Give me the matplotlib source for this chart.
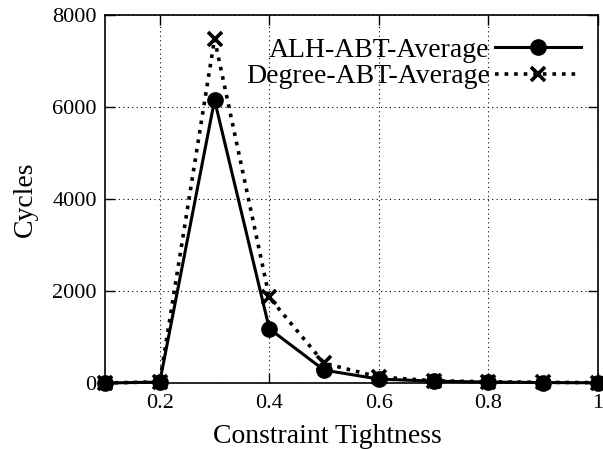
import matplotlib.pyplot as plt
import numpy as np

plt.rcParams['font.family'] = ['Liberation Serif', 'DejaVu Serif']

tightness = [0.1, 0.2, 0.3, 0.4, 0.5, 0.6, 0.7, 0.8, 0.9, 1.0]
alh_avg = [0, 20, 6150, 1180, 280, 85, 40, 20, 10, 5]
degree_avg = [0, 25, 7480, 1860, 430, 130, 50, 25, 15, 8]

fig = plt.figure(figsize=(6.03, 4.49), dpi=100)
ax = fig.add_axes([105 / 603, 1 - 383 / 449, 493 / 603, 368 / 449])

ax.plot(tightness, alh_avg, '-', color='black', lw=2.2, marker='o', ms=11,
        label='ALH-ABT-Average', clip_on=False, zorder=4)
ax.plot(tightness, degree_avg, ':', color='black', lw=2.6, marker='x', ms=10,
        mew=2.6, label='Degree-ABT-Average', clip_on=False, zorder=3)

ax.set_xlim(0.1, 1.0)
ax.set_ylim(0, 8000)
ax.set_xticks([0.2, 0.4, 0.6, 0.8, 1.0])
ax.set_xticklabels(['0.2', '0.4', '0.6', '0.8', '1'])
ax.set_yticks([0, 2000, 4000, 6000, 8000])
ax.tick_params(direction='in', top=True, right=True, labelsize=16, length=7,
               width=1, pad=8)
ax.tick_params(axis='y', pad=6)
ax.grid(True, linestyle=(0, (1, 3)), color='black', lw=0.8)
for s in ax.spines.values():
    s.set_linewidth(1.2)

ax.set_xlabel('Constraint Tightness', fontsize=20, va='baseline')
ax.xaxis.set_label_coords(0.452, -0.163)
ax.set_ylabel('Cycles', fontsize=20, labelpad=10)

leg = ax.legend(loc='upper right', bbox_to_anchor=(1.0, 0.985),
                markerfirst=False, frameon=False,
                fontsize=20, handlelength=3.1, borderaxespad=0.2,
                labelspacing=0.05, handletextpad=0.2)
for t in leg.get_texts():
    t.set_ha('right')

fig.savefig('out.png', dpi=100)
